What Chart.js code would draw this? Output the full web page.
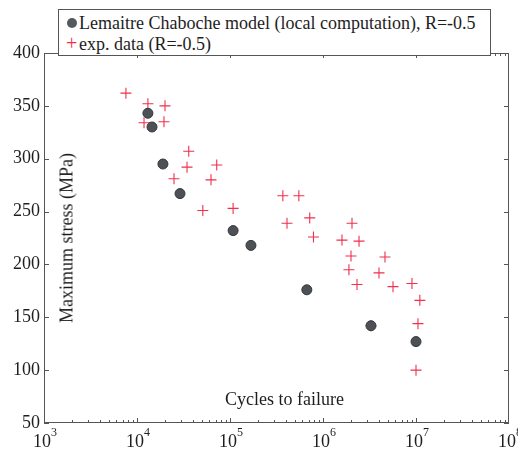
<!DOCTYPE html>
<html>
<head>
<meta charset="utf-8">
<script src="https://cdn.jsdelivr.net/npm/chart.js@4/dist/chart.umd.min.js"></script>
<style>
  body { margin: 0; background: #fff; }
  #wrap { position: relative; width: 518px; height: 451px; font-family: 'Liberation Serif', 'Times New Roman', serif; color: #1e1e1e; }
  #legend { position: absolute; left: 58px; top: 9px; width: 433px; height: 47px; box-sizing: border-box;
            border: 1px solid #555; background: #fff; font-size: 18px; }
  #legend .row { position: absolute; left: 0; white-space: nowrap; line-height: 20px; }
  #legend .dot { position: absolute; left: 8px; top: 5px; width: 10px; height: 10px; border-radius: 50%; background: #55585d; }
  #legend .plus { position: absolute; left: 7px; top: -1px; color: #f0304c; font-size: 20px; }
  #legend .txt { position: absolute; left: 20px; top: 0; }
  .axis-title { position: absolute; font-size: 18px; white-space: nowrap; }
</style>
</head>
<body>
<div id="wrap">
  <canvas id="chart" width="518" height="451"></canvas>
  <div id="legend">
    <div class="row" style="top:3px"><span class="dot"></span><span class="txt">Lemaitre Chaboche model (local computation), R=-0.5</span></div>
    <div class="row" style="top:24px"><span class="plus">+</span><span class="txt">exp. data (R=-0.5)</span></div>
  </div>
  <div class="axis-title" id="xtitle" style="left:225px; top:389px">Cycles to failure</div>
  <div class="axis-title" id="ytitle" style="left:67px; top:238px; transform: translate(-50%,-50%) rotate(-90deg)">Maximum stress (MPa)</div>
</div>
<script>
const modelCycles = [1.31e4, 1.45e4, 1.9e4, 2.9e4, 1.08e5, 1.68e5, 6.7e5, 3.28e6, 1.0e7];
const modelStress = [343, 330, 295, 267, 232, 218, 176, 142, 127];

const expCycles = [7.6e3, 1.31e4, 2.0e4, 1.19e4, 1.95e4, 3.6e4, 3.45e4, 7.2e4, 2.5e4, 6.25e4,
  5.1e4, 1.08e5, 3.7e5, 5.5e5, 4.1e5, 7.2e5, 7.9e5, 2.05e6, 1.6e6, 2.44e6,
  2.0e6, 4.64e6, 1.9e6, 4.0e6, 2.32e6, 5.66e6, 9.05e6, 1.1e7, 1.05e7, 1.0e7, 3.28e6];
const expStress = [362, 352, 350, 334, 335, 307, 292, 294, 281, 280,
  251, 253, 265, 265, 239, 244, 226, 239, 223, 222,
  208, 207, 195, 192, 181, 179, 182, 166, 144, 100, 142];

const xTickExps = [3, 4, 5, 6, 7, 8];
const yTicks = [50, 100, 150, 200, 250, 300, 350, 400];

const SERIF = "'Liberation Serif', 'Times New Roman', serif";
const toPoints = (xs, ys) => xs.map((x, i) => ({x, y: ys[i]}));

// frame, inward ticks and 10^n labels
const framePlugin = {
  id: 'frame',
  afterDraw(chart) {
    const {ctx, chartArea: a} = chart;
    const xs = chart.scales.x, ys = chart.scales.y;
    ctx.save();
    ctx.strokeStyle = '#555';
    ctx.lineWidth = 1;
    ctx.strokeRect(a.left + 0.5, a.top + 0.5, a.right - a.left - 1, a.bottom - a.top - 1);
    ctx.beginPath();
    for (let e = xTickExps[0]; e < xTickExps[xTickExps.length - 1]; e++) {
      for (let k = 1; k <= 9; k++) {
        if (k === 1 && e === xTickExps[0]) continue;
        const px = Math.round(xs.getPixelForValue(k * Math.pow(10, e))) + 0.5;
        const len = k === 1 ? 5 : 3;
        ctx.moveTo(px, a.bottom); ctx.lineTo(px, a.bottom - len);
        ctx.moveTo(px, a.top); ctx.lineTo(px, a.top + len);
      }
    }
    yTicks.forEach(v => {
      const py = Math.round(ys.getPixelForValue(v)) + 0.5;
      ctx.moveTo(a.left, py); ctx.lineTo(a.left + 5, py);
      ctx.moveTo(a.right, py); ctx.lineTo(a.right - 5, py);
    });
    ctx.stroke();

    ctx.fillStyle = '#1e1e1e';
    ctx.textBaseline = 'alphabetic';
    xTickExps.forEach(e => {
      const px = xs.getPixelForValue(Math.pow(10, e));
      ctx.font = '18px ' + SERIF;
      const wb = ctx.measureText('10').width;
      ctx.font = '12px ' + SERIF;
      const we = ctx.measureText(String(e)).width;
      const x0 = px - (wb + we) / 2 + 1;
      ctx.font = '18px ' + SERIF;
      ctx.fillText('10', x0, a.bottom + 24);
      ctx.font = '12px ' + SERIF;
      ctx.fillText(String(e), x0 + wb, a.bottom + 13);
    });
    ctx.restore();
  }
};

function draw() {
  new Chart(document.getElementById('chart'), {
    type: 'scatter',
    data: {
      datasets: [
        {
          label: 'Lemaitre Chaboche model (local computation), R=-0.5',
          data: toPoints(modelCycles, modelStress),
          pointStyle: 'circle',
          pointRadius: 5,
          backgroundColor: '#4d5156',
          borderColor: '#33363a',
          borderWidth: 1
        },
        {
          label: 'exp. data (R=-0.5)',
          data: toPoints(expCycles, expStress),
          pointStyle: 'cross',
          pointRadius: 5.5,
          borderColor: '#f0304c',
          borderWidth: 1.1
        }
      ]
    },
    options: {
      responsive: false,
      animation: false,
      layout: { padding: { top: 53, right: 9, left: 0, bottom: 0 } },
      plugins: { legend: { display: false }, tooltip: { enabled: false } },
      scales: {
        x: {
          type: 'logarithmic',
          min: 1e3, max: 1e8,
          grid: { display: false, drawTicks: false },
          border: { display: false },
          ticks: { display: false },
          afterFit: s => { s.height = 28; }
        },
        y: {
          min: 50, max: 400,
          grid: { display: false, drawTicks: false },
          border: { display: false },
          ticks: {
            stepSize: 50,
            padding: 4,
            color: '#1e1e1e',
            font: { family: SERIF, size: 18 }
          },
          afterFit: s => { s.width = 44; }
        }
      }
    },
    plugins: [framePlugin]
  });
}

document.fonts.load('18px "Liberation Serif"').then(draw, draw);
</script>
</body>
</html>
